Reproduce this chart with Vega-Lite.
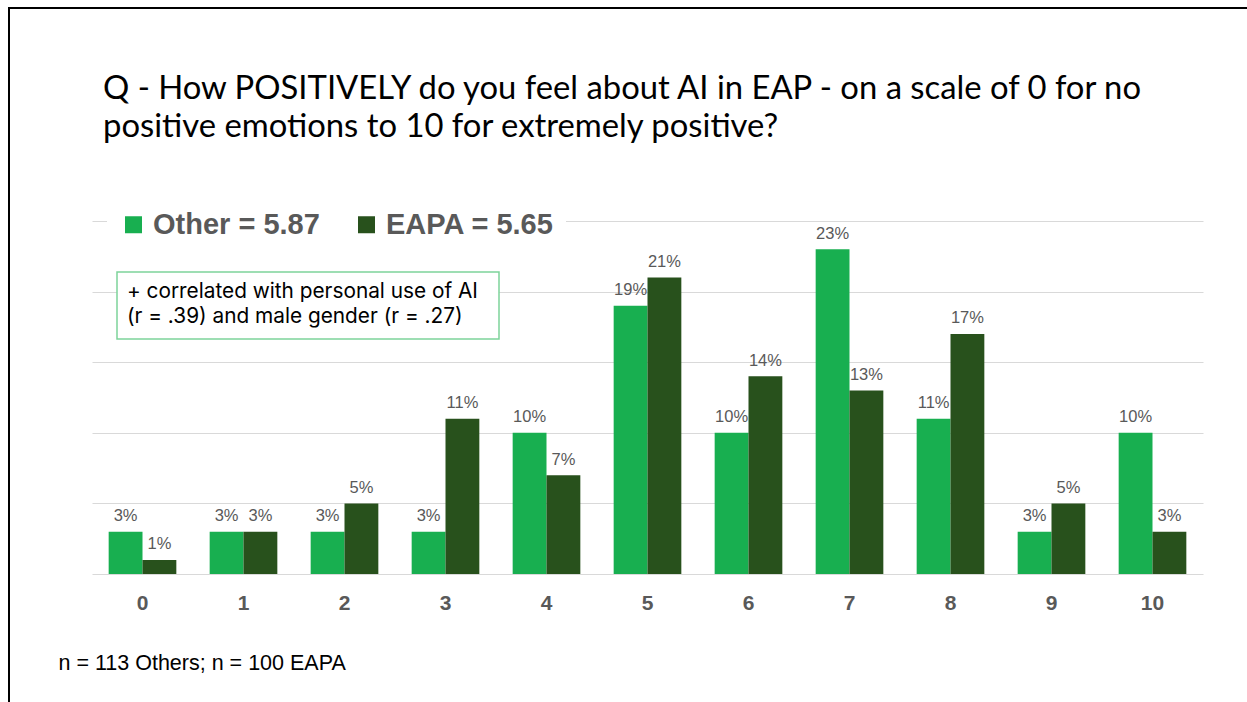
{
  "$schema": "https://vega.github.io/schema/vega-lite/v6.json",
  "autosize": "none",
  "width": 1111,
  "height": 353,
  "padding": {"left": 92, "top": 221, "right": 44, "bottom": 128},
  "background": "white",
  "config": {"view": {"stroke": null}, "font": "Liberation Sans"},
  "datasets": {
    "main": [
      {"score": 0, "group": "Other", "value": 0.03}, {"score": 0, "group": "EAPA", "value": 0.01},
      {"score": 1, "group": "Other", "value": 0.03}, {"score": 1, "group": "EAPA", "value": 0.03},
      {"score": 2, "group": "Other", "value": 0.03}, {"score": 2, "group": "EAPA", "value": 0.05},
      {"score": 3, "group": "Other", "value": 0.03}, {"score": 3, "group": "EAPA", "value": 0.11},
      {"score": 4, "group": "Other", "value": 0.10}, {"score": 4, "group": "EAPA", "value": 0.07},
      {"score": 5, "group": "Other", "value": 0.19}, {"score": 5, "group": "EAPA", "value": 0.21},
      {"score": 6, "group": "Other", "value": 0.10}, {"score": 6, "group": "EAPA", "value": 0.14},
      {"score": 7, "group": "Other", "value": 0.23}, {"score": 7, "group": "EAPA", "value": 0.13},
      {"score": 8, "group": "Other", "value": 0.11}, {"score": 8, "group": "EAPA", "value": 0.17},
      {"score": 9, "group": "Other", "value": 0.03}, {"score": 9, "group": "EAPA", "value": 0.05},
      {"score": 10, "group": "Other", "value": 0.10}, {"score": 10, "group": "EAPA", "value": 0.03}
    ]
  },
  "layer": [
    {
      "data": {"name": "main"},
      "mark": {"type": "bar"},
      "encoding": {
        "x": {
          "field": "score", "type": "ordinal",
          "scale": {"paddingInner": 0.33, "paddingOuter": 0.165},
          "axis": {
            "title": "n = 113 Others; n = 100 EAPA",
            "titleX": -34, "titleY": 95, "titleAlign": "left", "titleAnchor": "start", "titleBaseline": "alphabetic",
            "titleFont": "Liberation Sans", "titleFontSize": 21.5, "titleFontWeight": "normal", "titleColor": "black",
            "labelAngle": 0, "labelFont": "Liberation Sans", "labelFontSize": 21, "labelFontWeight": "bold",
            "labelColor": "#595959", "labelPadding": 18, "ticks": false, "tickSize": 0, "domain": false, "grid": false
          }
        },
        "xOffset": {"field": "group", "type": "nominal", "sort": ["Other", "EAPA"], "scale": {"domain": ["Other", "EAPA"]}},
        "y": {
          "field": "value", "type": "quantitative",
          "scale": {"domain": [0, 0.25], "nice": false},
          "axis": {"values": [0, 0.05, 0.1, 0.15, 0.2, 0.25], "labels": false, "ticks": false, "domain": false, "title": null, "gridColor": "#D9D9D9", "gridWidth": 1}
        },
        "color": {
          "field": "group", "type": "nominal",
          "scale": {"domain": ["Other", "EAPA"], "range": ["#18AF50", "#28511C"]},
          "legend": {
            "orient": "none", "legendX": 15, "legendY": -23, "direction": "horizontal", "title": null,
            "padding": 12, "fillColor": "white", "symbolType": "square", "symbolSize": 289, "symbolStrokeWidth": 0,
            "symbolOpacity": 1, "labelFont": "Liberation Sans", "labelFontSize": 29, "labelFontWeight": "bold",
            "labelColor": "#595959", "labelOffset": 5, "columnPadding": 32, "labelLimit": 400,
            "labelExpr": "datum.label == 'Other' ? 'Other = 5.87' : 'EAPA = 5.65'"
          }
        }
      }
    },
    {
      "data": {"name": "main"},
      "mark": {"type": "text", "baseline": "alphabetic", "dy": -10.5, "fontSize": 16.5, "color": "#595959", "font": "Liberation Sans"},
      "encoding": {
        "x": {"field": "score", "type": "ordinal"},
        "xOffset": {"field": "group", "type": "nominal", "sort": ["Other", "EAPA"]},
        "y": {"field": "value", "type": "quantitative"},
        "text": {"field": "value", "type": "quantitative", "format": ".0%"}
      }
    },
    {
      "data": {"values": [{}]},
      "mark": {"type": "text", "align": "left", "baseline": "alphabetic", "font": "Lato", "fontSize": 32.8, "color": "black", "lineHeight": 38},
      "encoding": {
        "x": {"value": 11},
        "y": {"value": -122},
        "text": {"value": ["Q - How POSITIVELY do you feel about AI in EAP - on a scale of 0 for no", "positive emotions to 10 for extremely positive?"]}
      }
    },
    {
      "data": {"values": [{}]},
      "mark": {"type": "rect", "fill": "white", "stroke": "#7DD39A", "strokeWidth": 1.5},
      "encoding": {
        "x": {"value": 25}, "x2": {"value": 407},
        "y": {"value": 51}, "y2": {"value": 118}
      }
    },
    {
      "data": {"values": [{}]},
      "mark": {"type": "text", "align": "left", "baseline": "alphabetic", "font": "Inter", "fontSize": 20.8, "color": "black", "lineHeight": 25},
      "encoding": {
        "x": {"value": 35},
        "y": {"value": 77},
        "text": {"value": ["+ correlated with personal use of AI", "(r = .39) and male gender (r = .27)"]}
      }
    },
    {
      "data": {"values": [{}]},
      "mark": {"type": "rule", "color": "black", "strokeWidth": 2},
      "encoding": {"x": {"value": -83}, "x2": {"value": 1160}, "y": {"value": -213}}
    },
    {
      "data": {"values": [{}]},
      "mark": {"type": "rule", "color": "black", "strokeWidth": 2},
      "encoding": {"x": {"value": -83}, "y": {"value": -214}, "y2": {"value": 490}}
    }
  ]
}
